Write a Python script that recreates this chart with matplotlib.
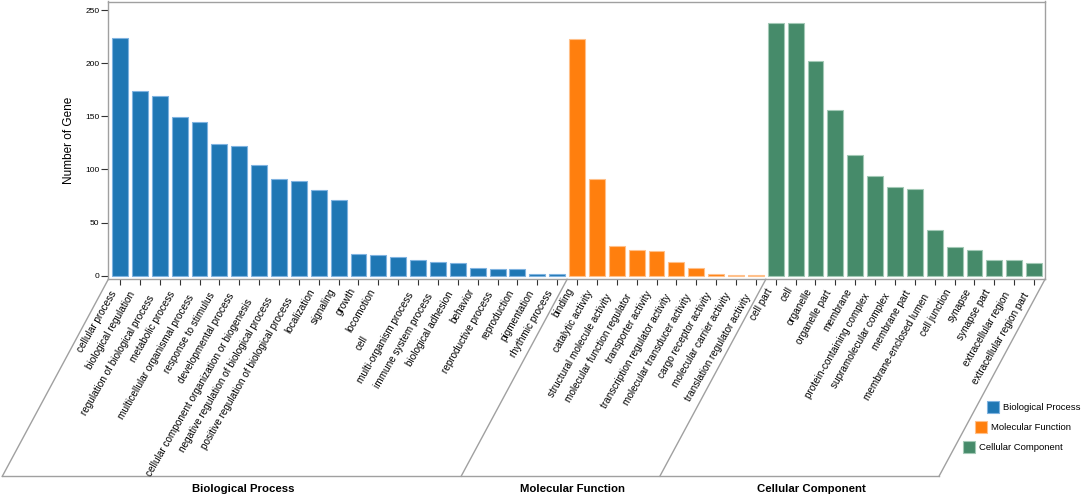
import matplotlib
matplotlib.use("Agg")
import matplotlib.pyplot as plt
from matplotlib.lines import Line2D
from matplotlib.patches import Rectangle
import numpy as np

# data
bp_terms = ["cellular process", "biological regulation", "regulation of biological process",
            "metabolic process", "multicellular organismal process", "response to stimulus",
            "developmental process", "cellular component organization or biogenesis",
            "negative regulation of biological process", "positive regulation of biological process",
            "localization", "signaling", "growth", "locomotion", "cell", "multi-organism process",
            "immune system process", "biological adhesion", "behavior", "reproductive process",
            "reproduction", "pigmentation", "rhythmic process"]
bp_counts = [224, 174, 169, 149, 145, 124, 122, 104, 91, 89, 81, 71, 20, 19, 18, 15,
             13, 12, 7, 6, 6, 2, 2]

mf_terms = ["binding", "catalytic activity", "structural molecule activity",
            "molecular function regulator", "transporter activity",
            "transcription regulator activity", "molecular transducer activity",
            "cargo receptor activity", "molecular carrier activity",
            "translation regulator activity"]
mf_counts = [223, 91, 28, 24, 23, 13, 7, 2, 1, 1]

cc_terms = ["cell part", "cell", "organelle", "organelle part", "membrane",
            "protein-containing complex", "supramolecular complex", "membrane part",
            "membrane-enclosed lumen", "cell junction", "synapse", "synapse part",
            "extracellular region", "extracellular region part"]
cc_counts = [238, 238, 202, 156, 114, 94, 83, 82, 43, 27, 24, 15, 15, 12]

groups = ["Biological Process", "Molecular Function", "Cellular Component"]
colors = ["#1f77b4", "#ff7f0e", "#468b6a"]
edges = ["#7fb3e0", "#ffc08a", "#a3c9b6"]

plt.rcParams['font.family'] = ['Liberation Sans', 'DejaVu Sans']

W, H = 1084, 496
fig = plt.figure(figsize=(W / 100, H / 100), dpi=100)
ax = fig.add_axes([108.3 / W, 1 - 279.3 / H, (1045 - 108.3) / W, (279.3 - 1.5) / H])

terms = bp_terms + mf_terms + cc_terms
all_sets = [(bp_terms, bp_counts), (mf_terms, mf_counts), (cc_terms, cc_counts)]
start = 0
bounds = [0]
for (t, c), col, ec in zip(all_sets, colors, edges):
    x = np.arange(start, start + len(t))
    ax.bar(x, c, width=0.8, color=col, edgecolor=ec, linewidth=0.8)
    start += len(t)
    bounds.append(start)

ax.set_xlim(-0.59, len(terms) - 0.45)
ax.set_ylim(-3.4, 258)
ax.set_xticks(np.arange(len(terms)))
ax.set_xticklabels([])
ax.set_yticks([0, 50, 100, 150, 200, 250])
ax.tick_params(axis='y', labelsize=6, length=5, width=0.8, color='#333333', pad=1.5)
ax.tick_params(axis='x', length=4, width=0.8, color='#333333')
ax.set_ylabel("Number of Gene", fontsize=8.5, labelpad=7)
for s in ax.spines.values():
    s.set_color('#a0a0a0')
    s.set_linewidth(1)

to_fig = fig.transFigure.inverted()
renderer = fig.canvas.get_renderer()
y_top = ax.transAxes.transform((0, 0))[1]

# rotated category labels; longer labels sit a bit further down the slant,
# the BP "cell" label is pushed far down (padded in the original to keep it unique)
extra = {bp_terms.index("cell"): 56}
c60, s60 = 0.5, np.sqrt(3) / 2
for i, t in enumerate(terms):
    tx = ax.transData.transform((i, 0))[0]
    txt = fig.text(0, 0, t, rotation=60, ha='right', va='center',
                   rotation_mode='anchor', fontsize=7.2)
    L = renderer.get_text_width_height_descent(t, txt.get_fontproperties(), ismath=False)[0]
    e = extra.get(i, 0)
    p = to_fig.transform((tx - 4.6 - 0.024 * L - c60 * e,
                          y_top - (7.3 + 0.066 * L + s60 * e)))
    txt.set_position(p)

# slanted frame below the axis, in pixel coordinates
depth_y, depth_x = 197, 106


def px_line(x0, y0, x1, y1):
    p = to_fig.transform([(x0, y0), (x1, y1)])
    fig.add_artist(Line2D(p[:, 0], p[:, 1], color='#a0a0a0', lw=1))


y_bot = y_top - depth_y
bx = [ax.transData.transform((b - 0.5, 0))[0] for b in bounds]
bx[0] = ax.transAxes.transform((0, 0))[0]
bx[-1] = ax.transAxes.transform((1, 0))[0]
for xb in bx:
    px_line(xb, y_top, xb - depth_x, y_bot)
px_line(bx[0] - depth_x, y_bot, bx[-1] - depth_x, y_bot)

for i, g in enumerate(groups):
    xc = (bx[i] + bx[i + 1]) / 2 - depth_x + 12
    p = to_fig.transform((xc, 7))
    fig.text(p[0], p[1], g, ha='center', va='center', fontsize=8.2, fontweight='bold')

# legend along the right slant
for i, (g, col) in enumerate(zip(groups, colors)):
    yc = H - (407 + 20 * i)
    xs = 987 - 12 * i
    p0 = to_fig.transform((xs, yc - 6))
    wh = to_fig.transform((12, 12)) - to_fig.transform((0, 0))
    fig.add_artist(Rectangle(p0, wh[0], wh[1], transform=fig.transFigure,
                             facecolor=col, edgecolor=edges[i], lw=0.8))
    pt = to_fig.transform((xs + 16, yc))
    fig.text(pt[0], pt[1], g, ha='left', va='center', fontsize=6.8)

fig.savefig("out.png", dpi=100)
